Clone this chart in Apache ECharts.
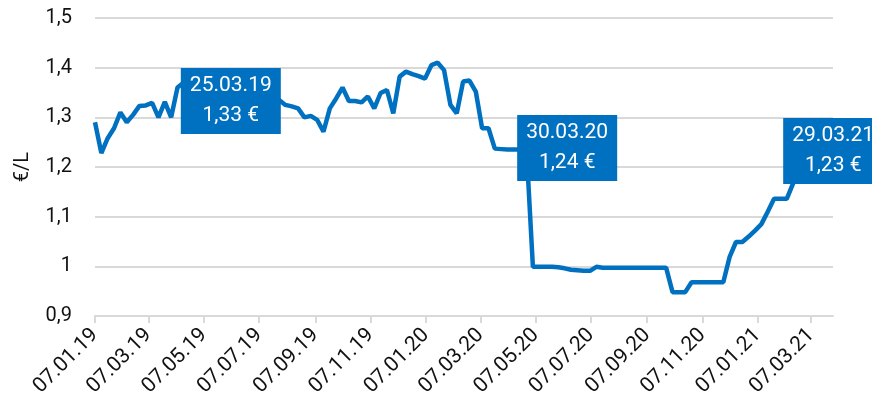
<!DOCTYPE html>
<html>
<head>
<meta charset="utf-8">
<script src="https://cdn.jsdelivr.net/npm/echarts@6/dist/echarts.min.js"></script>
<style>
  html, body { margin: 0; padding: 0; background: #fff; }
  #main { width: 872px; height: 409px; }
</style>
</head>
<body>
<div id="main"></div>
<script>
// weekly prices (€/L), one value per Monday starting 07.01.19
const startDate = new Date(2019, 0, 7);
const endDate = new Date(2021, 2, 31);
const weeklyPrices = [
  1.29, 1.228, 1.258, 1.278, 1.31, 1.29, 1.305, 1.323, 1.324, 1.329,
  1.30, 1.331, 1.30, 1.36, 1.37, 1.38, 1.385, 1.39, 1.38, 1.375,
  1.37, 1.36, 1.365, 1.36, 1.355, 1.35, 1.345, 1.345, 1.34, 1.335,
  1.325, 1.322, 1.318, 1.30, 1.303, 1.295, 1.271, 1.318, 1.338, 1.36,
  1.333, 1.333, 1.33, 1.342, 1.318, 1.349, 1.355, 1.308, 1.382, 1.392,
  1.387, 1.383, 1.378, 1.405, 1.41, 1.395, 1.325, 1.308, 1.372, 1.374,
  1.352, 1.278, 1.278, 1.237, 1.236, 1.235, 1.235, 1.235, 1.235, 0.999,
  0.999, 0.999, 0.999, 0.998, 0.996, 0.993, 0.992, 0.991, 0.991, 0.999,
  0.997, 0.997, 0.997, 0.997, 0.997, 0.997, 0.997, 0.997, 0.997, 0.997,
  0.997, 0.948, 0.948, 0.948, 0.968, 0.968, 0.968, 0.968, 0.968, 0.968,
  1.019, 1.049, 1.049, 1.06, 1.072, 1.085, 1.11, 1.136, 1.136, 1.136,
  1.167, 1.19, 1.20, 1.21, 1.22, 1.225, 1.23
];
// weeks with a callout box
const calloutWeeks = [11, 64, 116];

const yMin = 0.9, yMax = 1.5, yStep = 0.1;
const blue = '#0070C0';

function pad(n) { return (n < 10 ? '0' : '') + n; }
function fmtDate(d) {
  return pad(d.getDate()) + '.' + pad(d.getMonth() + 1) + '.' + String(d.getFullYear()).slice(2);
}

// one category per day so the axis behaves like a date axis
const days = [];
for (let d = new Date(startDate); d <= endDate; d.setDate(d.getDate() + 1)) {
  days.push(new Date(d));
}
const dayLabels = days.map(fmtDate);

const lineData = weeklyPrices.map((v, i) => [i * 7, v]);

// tick on the 7th of every odd month
function isTickDay(index) {
  const d = days[index];
  return d.getDate() === 7 && d.getMonth() % 2 === 0;
}

const myChart = echarts.init(document.getElementById('main'));

const option = {
  animation: false,
  textStyle: { fontFamily: 'Roboto' },
  grid: { left: 95, right: 39, top: 18, bottom: 93 },
  xAxis: {
    type: 'category',
    data: dayLabels,
    boundaryGap: false,
    axisLine: { lineStyle: { color: '#d9d9d9', width: 2 } },
    axisTick: {
      interval: isTickDay,
      length: 7,
      lineStyle: { color: '#d9d9d9', width: 2 }
    },
    axisLabel: {
      interval: isTickDay,
      rotate: 45,
      color: '#111',
      fontSize: 21,
      margin: 16
    },
    splitLine: { show: false }
  },
  yAxis: {
    type: 'value',
    min: yMin,
    max: yMax,
    interval: yStep,
    name: '€/L',
    nameLocation: 'middle',
    nameGap: 62,
    nameTextStyle: { color: '#111', fontSize: 20 },
    axisLine: { show: false },
    axisTick: { show: false },
    axisLabel: {
      color: '#111',
      fontSize: 20,
      margin: 23,
      formatter: v => String(Math.round(v * 10) / 10).replace('.', ',')
    },
    splitLine: { lineStyle: { color: '#d9d9d9', width: 2 } }
  },
  series: [{
    type: 'line',
    data: lineData,
    showSymbol: false,
    lineStyle: { color: blue, width: 4.5 },
    itemStyle: { color: blue },
    markPoint: {
      symbol: 'rect',
      symbolSize: 0,
      data: calloutWeeks.map((w, k) => ({
        coord: [w * 7, weeklyPrices[w]],
        value: weeklyPrices[w],
        label: {
          offset: k < 2 ? [66, -1] : [2, -1]
        }
      })),
      label: {
        show: true,
        position: 'inside',
        formatter: p => dayLabels[p.data.coord[0]] + '\n' +
          p.data.value.toFixed(2).replace('.', ',') + ' €',
        color: '#fff',
        fontSize: 21,
        lineHeight: 30,
        width: 100,
        align: 'center',
        padding: [3, 0],
        backgroundColor: blue
      }
    }
  }]
};

myChart.setOption(option);
</script>
</body>
</html>
